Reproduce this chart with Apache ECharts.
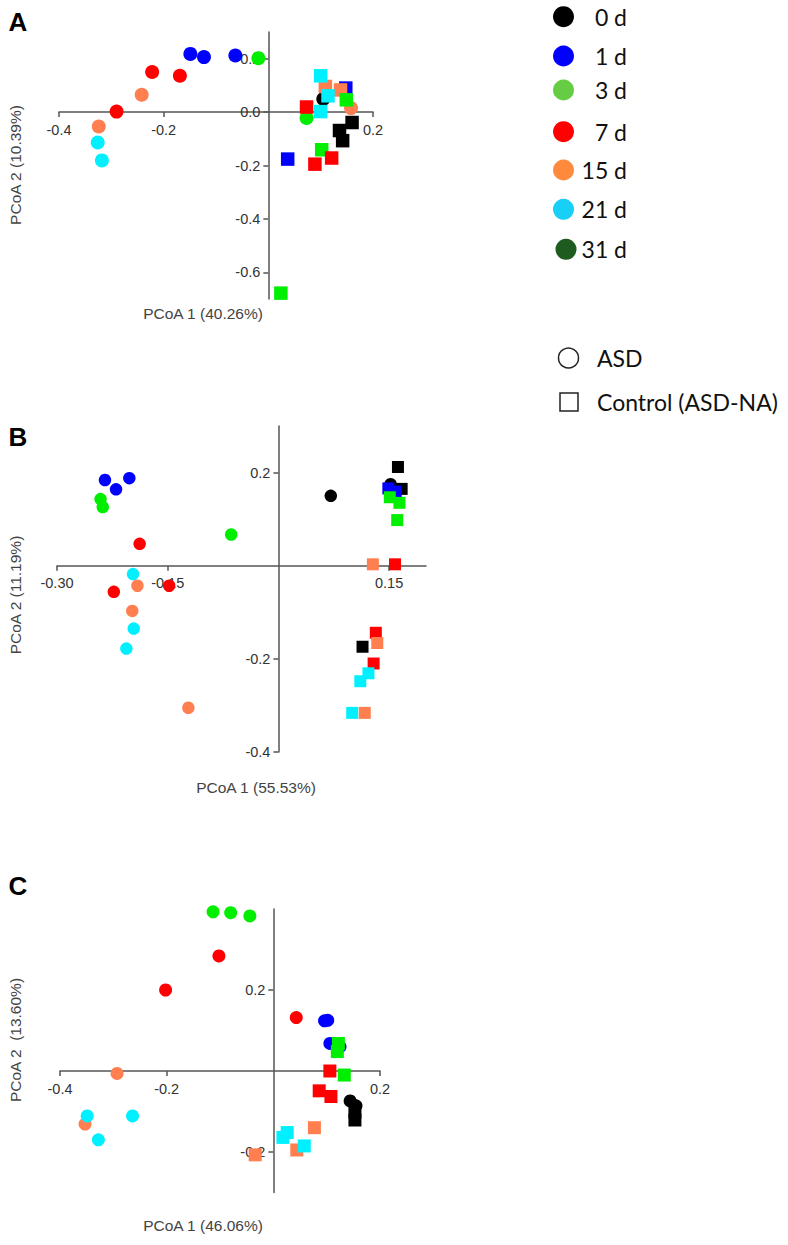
<!DOCTYPE html>
<html><head><meta charset="utf-8">
<script src="https://cdn.jsdelivr.net/npm/echarts@6/dist/echarts.min.js"></script>
<style>html,body{margin:0;padding:0;background:#fff}#c{width:788px;height:1245px}</style>
</head><body><div id="c"></div>
<script>
const days = ['0 d','1 d','3 d','7 d','15 d','21 d','31 d'];
const dayColors = ['#000000','#0000ff','#00ee00','#ff0000','#ff7f50','#00f0ff','#1e5b1e'];
const legendColors = ['#000000','#0000ff','#66cc44','#ff0000','#ff8a3d','#18d0f5','#1e5b1e'];
const shapeNames = ['ASD','Control (ASD-NA)'];

// Panel A : [PCoA1, PCoA2, day]
const A_ASD = [
  [-0.149,0.218,'1 d'],[-0.123,0.206,'1 d'],[-0.063,0.212,'1 d'],
  [-0.019,0.202,'3 d'],[0.073,-0.022,'3 d'],
  [-0.222,0.150,'7 d'],[-0.169,0.136,'7 d'],[-0.290,0.002,'7 d'],
  [-0.242,0.065,'15 d'],[-0.324,-0.054,'15 d'],[0.158,0.015,'15 d'],
  [-0.326,-0.114,'21 d'],[-0.318,-0.181,'21 d'],
  [0.105,0.049,'0 d']
];
const A_Control = [
  [0.148,0.090,'1 d'],[0.037,-0.176,'1 d'],
  [0.109,0.096,'15 d'],[0.138,0.083,'15 d'],
  [0.149,0.046,'3 d'],[0.102,-0.141,'3 d'],[0.024,-0.678,'3 d'],
  [0.100,0.136,'21 d'],[0.114,0.061,'21 d'],[0.100,0.002,'21 d'],
  [0.073,0.019,'7 d'],[0.121,-0.172,'7 d'],[0.089,-0.195,'7 d'],
  [0.160,-0.039,'0 d'],[0.136,-0.069,'0 d'],[0.142,-0.107,'0 d']
];
const A_xTicks = [-0.4,-0.2,0.2];
const A_yTicks = [-0.6,-0.4,-0.2,0.0,0.2];

// Panel B
const B_ASD = [
  [-0.235,0.184,'1 d'],[-0.220,0.164,'1 d'],[-0.202,0.188,'1 d'],
  [-0.241,0.143,'3 d'],[-0.238,0.126,'3 d'],[-0.064,0.067,'3 d'],
  [-0.188,0.047,'7 d'],[-0.223,-0.056,'7 d'],[-0.148,-0.043,'7 d'],
  [-0.197,-0.018,'21 d'],[-0.196,-0.135,'21 d'],[-0.206,-0.178,'21 d'],
  [-0.191,-0.043,'15 d'],[-0.198,-0.097,'15 d'],[-0.122,-0.305,'15 d'],
  [0.071,0.150,'0 d'],[0.152,0.175,'0 d']
];
const B_Control = [
  [0.162,0.212,'0 d'],[0.167,0.165,'0 d'],
  [0.149,0.166,'1 d'],[0.159,0.159,'1 d'],
  [0.151,0.147,'3 d'],[0.164,0.135,'3 d'],[0.161,0.098,'3 d'],
  [0.128,0.003,'15 d'],[0.158,0.003,'7 d'],
  [0.132,-0.144,'7 d'],[0.134,-0.166,'15 d'],[0.114,-0.174,'0 d'],[0.129,-0.210,'7 d'],
  [0.122,-0.231,'21 d'],[0.111,-0.248,'21 d'],[0.100,-0.316,'21 d'],[0.117,-0.316,'15 d']
];
const B_xTicks = [-0.30,-0.15,0.15];
const B_yTicks = [-0.4,-0.2,0.2];

// Panel C
const C_ASD = [
  [-0.113,0.393,'3 d'],[-0.080,0.391,'3 d'],[-0.044,0.383,'3 d'],
  [-0.102,0.284,'7 d'],[-0.202,0.200,'7 d'],[0.043,0.132,'7 d'],
  [0.096,0.124,'1 d'],[0.102,0.125,'1 d'],[0.106,0.068,'1 d'],[0.125,0.060,'1 d'],
  [-0.293,-0.006,'15 d'],[-0.353,-0.131,'15 d'],
  [-0.349,-0.111,'21 d'],[-0.264,-0.111,'21 d'],[-0.328,-0.170,'21 d'],
  [0.144,-0.074,'0 d'],[0.155,-0.086,'0 d']
];
const C_Control = [
  [0.122,0.068,'3 d'],[0.120,0.048,'3 d'],
  [0.106,0.000,'7 d'],[0.086,-0.049,'7 d'],[0.108,-0.063,'7 d'],
  [0.133,-0.010,'3 d'],
  [0.153,-0.101,'0 d'],[0.153,-0.121,'0 d'],
  [0.077,-0.140,'15 d'],[0.044,-0.195,'15 d'],[-0.034,-0.207,'15 d'],
  [0.026,-0.152,'21 d'],[0.018,-0.164,'21 d'],[0.058,-0.185,'21 d']
];
const C_xTicks = [-0.4,-0.2,0.2];
const C_yTicks = [-0.2,0.2];

const panelTitles = [
  ['PCoA 1 (40.26%)','PCoA 2 (10.39%)'],
  ['PCoA 1 (55.53%)','PCoA 2 (11.19%)'],
  ['PCoA 1 (46.06%)','PCoA 2  (13.60%)']
];

const grids = [
  {left:59, top:32, width:314, height:267},
  {left:57, top:426, width:369, height:326},
  {left:60, top:909, width:320, height:283.5}
];
const xRanges = [[-0.4,0.2],[-0.3,0.2],[-0.4,0.2]];
const yRanges = [[-0.7,0.3],[-0.4,0.3],[-0.3,0.4]];

const AX = '#555';
const LBL_FONT = 'Liberation Sans, Arial, sans-serif';

// axes are shifted (via offset) so that they cross at the origin
function xAx(idx, ticks, dec) {
  const [min,max] = xRanges[idx];
  const off = -grids[idx].height * (0 - yRanges[idx][0]) / (yRanges[idx][1] - yRanges[idx][0]);
  return {
    type:'value', gridIndex:idx, min:min, max:max, position:'bottom', offset:off,
    axisLine:{show:true, onZero:false, lineStyle:{color:AX, width:1.5}},
    axisTick:{show:true, inside:false, length:5, customValues:ticks, lineStyle:{color:AX, width:1.5}},
    axisLabel:{show:true, customValues:ticks, formatter:v=>Number(v).toFixed(dec), color:'#333', fontSize:14.5, fontFamily:LBL_FONT, margin:10},
    splitLine:{show:false}
  };
}
function yAx(idx, ticks, dec) {
  const [min,max] = yRanges[idx];
  const off = -grids[idx].width * (0 - xRanges[idx][0]) / (xRanges[idx][1] - xRanges[idx][0]);
  return {
    type:'value', gridIndex:idx, min:min, max:max, position:'left', offset:off,
    axisLine:{show:true, onZero:false, lineStyle:{color:AX, width:1.5}},
    axisTick:{show:true, inside:false, length:5, customValues:ticks, lineStyle:{color:AX, width:1.5}},
    axisLabel:{show:true, customValues:ticks, formatter:v=>Number(v).toFixed(dec), color:'#333', fontSize:14.5, fontFamily:LBL_FONT, margin:8},
    splitLine:{show:false}
  };
}
function ser(idx, pts, symbol, size) {
  return {
    type:'scatter', xAxisIndex:idx, yAxisIndex:idx, symbol:symbol, symbolSize:size,
    silent:true, animation:false,
    data: pts.map(p => ({value:[p[0],p[1]], itemStyle:{color: dayColors[days.indexOf(p[2])], opacity:1}}))
  };
}

const graphics = [];
function txt(t, x, y, font, opts) {
  graphics.push(Object.assign({type:'text', x:x, y:y, silent:true,
    style:{text:t, font:font, fill:'#444', textAlign:'center', textVerticalAlign:'middle'}}, opts||{}));
}
// panel letters
['A','B','C'].forEach((L,i)=>{
  const ys=[22,437,886];
  graphics.push({type:'text', x:18, y:ys[i], silent:true, style:{text:L, font:'bold 26px Liberation Sans, Arial', fill:'#000', textAlign:'center', textVerticalAlign:'middle'}});
});
// axis titles
const xTitlePos = [[203,313],[256,787],[203,1225]];
const yTitlePos = [[15,165],[15,595],[15,1040]];
panelTitles.forEach((t,i)=>{
  txt(t[0], xTitlePos[i][0], xTitlePos[i][1], '15.5px '+LBL_FONT);
  txt(t[1], yTitlePos[i][0], yTitlePos[i][1], '15.5px '+LBL_FONT, {rotation:Math.PI/2});
});
// colour legend
const legY = [16.7,56,90,131.7,170,209.3,249.3];
days.forEach((d,i)=>{
  graphics.push({type:'circle', silent:true, shape:{cx:i===6?566:563.5, cy:legY[i], r:10.5}, style:{fill:legendColors[i]}});
  graphics.push({type:'text', x:627, y:legY[i], silent:true, style:{text:d, font:'23px Lato, sans-serif', fill:'#111', textAlign:'right', textVerticalAlign:'middle'}});
});
// shape legend
graphics.push({type:'circle', silent:true, shape:{cx:568.5, cy:358, r:10}, style:{fill:'none', stroke:'#222', lineWidth:1.5}});
graphics.push({type:'rect', silent:true, shape:{x:560, y:393, width:18, height:18}, style:{fill:'none', stroke:'#222', lineWidth:1.5}});
graphics.push({type:'text', x:597, y:358, silent:true, style:{text:shapeNames[0], font:'23px Lato, sans-serif', fill:'#111', textAlign:'left', textVerticalAlign:'middle'}});
graphics.push({type:'text', x:597, y:402, silent:true, style:{text:shapeNames[1], font:'23px Lato, sans-serif', fill:'#111', textAlign:'left', textVerticalAlign:'middle'}});

const chart = echarts.init(document.getElementById('c'), null, {renderer:'svg'});
chart.setOption({
  animation:false,
  backgroundColor:'#fff',
  grid: grids,
  xAxis:[ xAx(0,A_xTicks,1), xAx(1,B_xTicks,2), xAx(2,C_xTicks,1) ],
  yAxis:[ yAx(0,A_yTicks,1), yAx(1,B_yTicks,1), yAx(2,C_yTicks,1) ],
  series:[
    ser(0,A_ASD,'circle',14), ser(0,A_Control,'rect',13.5),
    ser(1,B_ASD,'circle',12.5), ser(1,B_Control,'rect',12),
    ser(2,C_ASD,'circle',13), ser(2,C_Control,'rect',13)
  ],
  graphic:{elements:graphics}
});
</script></body></html>
